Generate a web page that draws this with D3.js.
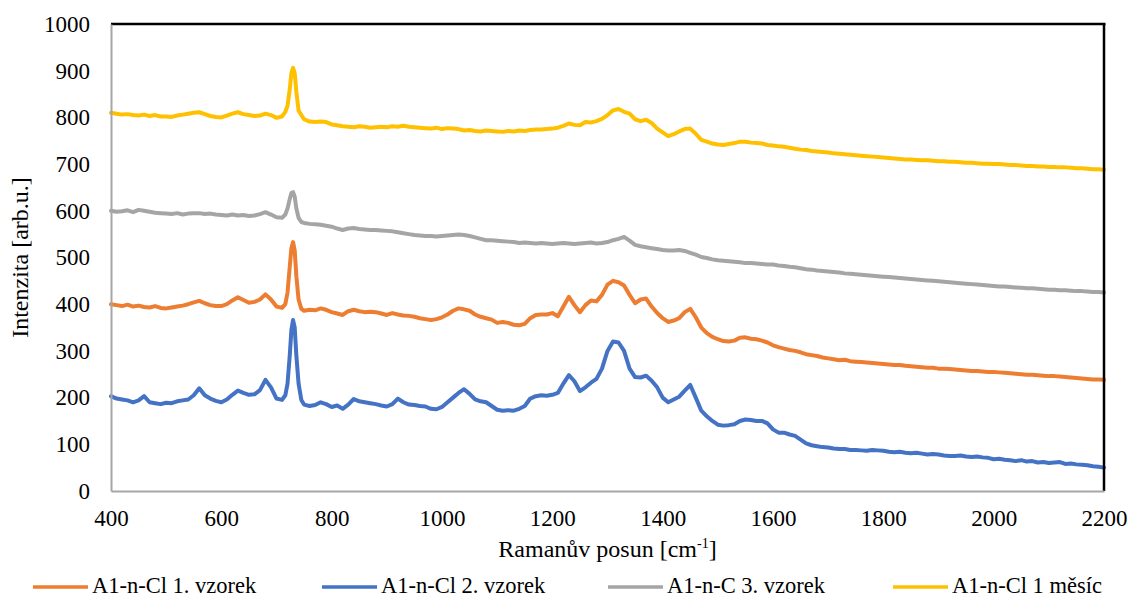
<!DOCTYPE html>
<html><head><meta charset="utf-8">
<script src="https://cdn.jsdelivr.net/npm/d3@7"></script>
<style>
html,body{margin:0;padding:0;background:#fff;}
svg{display:block;}
text{font-family:"Liberation Serif","Times New Roman",serif;fill:#000;}
</style></head>
<body>
<svg id="chart" width="1129" height="599"></svg>
<script>
// Wavenumbers (cm^-1)
const wavenumbers = [
 400,410,420,430,440,450,460,470,480,490,
 500,510,520,530,540,550,560,570,580,590,
 600,610,620,630,640,650,660,670,680,690,
 700,710,716,720,724,727,730,733,736,740,745,750,760,770,780,790,
 800,810,820,830,840,850,860,870,880,890,
 900,910,920,930,940,950,960,970,980,990,
 1000,1010,1020,1030,1040,1050,1060,1070,1080,1090,
 1100,1110,1120,1130,1140,1150,1160,1170,1180,1190,
 1200,1210,1220,1230,1240,1250,1260,1270,1280,1290,
 1300,1310,1320,1330,1340,1350,1360,1370,1380,1390,
 1400,1410,1420,1430,1440,1450,1460,1470,1480,1490,
 1500,1510,1520,1530,1540,1550,1560,1570,1580,1590,
 1600,1610,1620,1630,1640,1650,1660,1670,1680,1690,
 1700,1710,1720,1730,1740,1750,1760,1770,1780,1790,
 1800,1810,1820,1830,1840,1850,1860,1870,1880,1890,
 1900,1910,1920,1930,1940,1950,1960,1970,1980,1990,
 2000,2010,2020,2030,2040,2050,2060,2070,2080,2090,
 2100,2110,2120,2130,2140,2150,2160,2170,2180,2190,
 2200
];

const seriesNames = ["A1-n-Cl 1. vzorek","A1-n-Cl 2. vzorek","A1-n-C 3. vzorek","A1-n-Cl 1 měsíc"];
const seriesColors = ["#ED7D31","#4472C4","#A5A5A5","#FFC000"];

const orange = [
 400,398,396,399,395,397,394,393,396,392,
 391,393,395,397,400,404,407,402,398,396,
 396,400,408,415,409,403,405,410,421,410,
 395,392,400,425,480,520,533,515,460,410,390,386,388,387,391,388,
 383,380,377,385,388,385,383,384,383,380,
 377,381,378,376,375,373,370,368,366,368,
 372,378,386,391,389,386,378,373,370,367,
 360,362,360,356,355,358,370,377,378,378,
 381,374,395,416,398,383,398,408,406,420,
 442,450,447,440,420,402,410,412,395,381,
 370,362,365,370,383,390,372,350,338,330,
 325,321,320,322,328,329,326,325,322,318,
 312,308,305,302,300,297,293,291,289,286,
 284,282,280,281,278,277,276,275,274,273,
 272,271,270,270,268,267,266,265,264,264,
 262,262,261,260,259,258,257,257,256,255,
 255,254,253,252,251,250,249,249,248,247,
 246,246,245,244,243,242,241,240,239,239,
 238
];

const blue = [
 203,198,196,194,190,194,203,190,188,186,
 189,188,192,194,196,205,220,205,198,193,
 190,196,206,215,210,206,207,216,238,222,
 198,195,205,230,290,345,366,350,290,230,195,185,182,184,190,186,
 180,183,176,185,197,192,190,188,186,183,
 181,186,198,190,185,184,182,181,176,175,
 180,190,200,210,218,208,196,192,190,182,
 174,172,173,172,176,182,198,203,205,204,
 206,210,230,248,235,214,222,232,240,262,
 300,320,318,300,262,244,243,247,236,222,
 200,190,196,202,215,227,200,172,160,150,
 142,140,141,143,150,153,152,150,150,145,
 132,125,125,121,118,110,102,98,96,94,
 93,91,90,90,88,88,87,86,88,87,
 86,84,83,84,82,81,82,80,78,79,
 78,76,75,75,76,74,73,74,72,71,
 68,69,67,66,64,66,63,64,61,62,
 60,61,62,58,59,57,56,55,53,52,
 50
];

const grey = [
 600,598,599,601,597,602,600,598,596,595,
 594,593,595,592,594,595,595,593,594,592,
 591,590,592,590,591,589,590,593,597,592,
 586,585,592,605,625,638,640,630,605,585,576,574,572,571,570,568,
 566,562,559,562,563,561,560,559,559,558,
 557,556,554,552,550,548,547,546,546,545,
 546,547,548,549,548,546,543,540,537,537,
 536,535,534,533,531,532,531,530,531,530,
 529,530,531,530,529,530,531,532,530,531,
 533,537,540,544,536,527,524,522,520,518,
 516,515,515,516,514,510,506,501,499,496,
 494,493,492,491,490,488,488,487,486,485,
 485,483,482,480,479,477,475,474,472,471,
 470,469,468,466,465,464,463,462,461,460,
 459,458,457,456,455,454,453,452,451,450,
 449,448,447,446,445,444,443,442,441,440,
 439,438,438,437,436,435,434,434,433,432,
 431,431,430,430,429,428,428,427,426,426,
 425
];

const yellow = [
 810,808,806,807,805,804,806,803,805,802,
 802,801,804,806,808,810,811,807,803,801,
 800,804,808,811,807,805,803,804,808,805,
 799,802,812,825,860,895,906,895,855,815,805,796,791,790,791,790,
 785,783,781,780,779,781,780,778,779,780,
 779,781,780,782,780,779,778,777,776,778,
 775,777,776,775,772,773,771,770,772,771,
 770,769,771,770,772,771,773,774,774,775,
 776,778,782,787,784,783,790,789,792,797,
 805,815,818,812,808,796,792,795,788,776,
 768,760,764,770,775,776,765,752,748,744,
 742,741,743,745,748,748,746,745,744,741,
 740,738,737,735,733,731,730,728,727,726,
 725,723,722,721,720,719,718,717,716,715,
 714,713,712,711,710,710,709,708,708,707,
 706,706,705,705,704,703,703,702,701,701,
 700,700,699,698,698,697,696,696,695,695,
 694,694,693,693,692,691,691,690,689,689,
 688
];

const xTicks = [400,600,800,1000,1200,1400,1600,1800,2000,2200];
const yTicks = [0,100,200,300,400,500,600,700,800,900,1000];
const xTitle = "Ramanův posun [cm";
const xTitleSup = "-1";
const yTitle = "Intenzita [arb.u.]";

const seriesValues = [orange, blue, grey, yellow];
const FONT = '"Liberation Serif","Times New Roman",serif';

const svg = d3.select("#chart");
const plot = {left:111, right:1104, top:24, bottom:491};
const x = d3.scaleLinear().domain([400,2200]).range([plot.left, plot.right]);
const y = d3.scaleLinear().domain([0,1000]).range([plot.bottom, plot.top]);

svg.append("rect").attr("width",1129).attr("height",599).attr("fill","#fff");

// Series
const line = d3.line().x(d=>x(d[0])).y(d=>y(d[1])).curve(d3.curveLinear);
seriesValues.forEach((vals,i)=>{
  const n = Math.min(vals.length, wavenumbers.length);
  const pts = [];
  for(let k=0;k<n;k++) pts.push([wavenumbers[k], vals[k]]);
  svg.append("path").datum(pts)
    .attr("d", line)
    .attr("fill","none")
    .attr("stroke", seriesColors[i])
    .attr("stroke-width", 4)
    .attr("stroke-linejoin","round")
    .attr("stroke-linecap","round");
});

// Frame: top & right black, left & bottom grey
svg.append("line").attr("x1",plot.left).attr("x2",plot.right+1.5).attr("y1",plot.top).attr("y2",plot.top)
  .attr("stroke","#000").attr("stroke-width",2.5);
svg.append("line").attr("x1",plot.right).attr("x2",plot.right).attr("y1",plot.top).attr("y2",plot.bottom)
  .attr("stroke","#000").attr("stroke-width",2.5);

// Axes
const yAxis = svg.append("g").attr("transform",`translate(${plot.left},0)`)
  .call(d3.axisLeft(y).tickValues(yTicks).tickSize(0).tickPadding(21).tickFormat(d3.format("d")));
const xAxis = svg.append("g").attr("transform",`translate(0,${plot.bottom})`)
  .call(d3.axisBottom(x).tickValues(xTicks).tickSize(0).tickPadding(19).tickFormat(d3.format("d")));
[yAxis,xAxis].forEach(g=>{
  g.attr("font-family", FONT).attr("font-size", 23);
  g.select(".domain").attr("stroke","#A6A6A6").attr("stroke-width",2);
  g.selectAll("text").attr("font-family", FONT).attr("font-size", 23).attr("fill","#000");
});

// Titles
const xt = svg.append("text").attr("x",(plot.left+plot.right)/2).attr("y",557)
  .attr("text-anchor","middle").attr("font-family",FONT).attr("font-size",24);
xt.append("tspan").text(xTitle);
xt.append("tspan").text(xTitleSup).attr("dy",-9).attr("font-size",14);
xt.append("tspan").text("]").attr("dy",9);

svg.append("text").attr("transform",`translate(28,${(plot.top+plot.bottom)/2}) rotate(-90)`)
  .attr("text-anchor","middle").attr("font-family",FONT).attr("font-size",24).text(yTitle);

// Legend
const legendX = [92,381,667,952];
const legendY = 586;
seriesNames.forEach((name,i)=>{
  const g = svg.append("g");
  g.append("line").attr("x1",legendX[i]-59).attr("x2",legendX[i]-4)
    .attr("y1",legendY+1).attr("y2",legendY+1)
    .attr("stroke",seriesColors[i]).attr("stroke-width",3.5);
  g.append("text").attr("x",legendX[i]).attr("y",legendY).attr("dy","0.33em")
    .attr("font-family",FONT).attr("font-size",22.5).text(name);
});
</script>
</body></html>
